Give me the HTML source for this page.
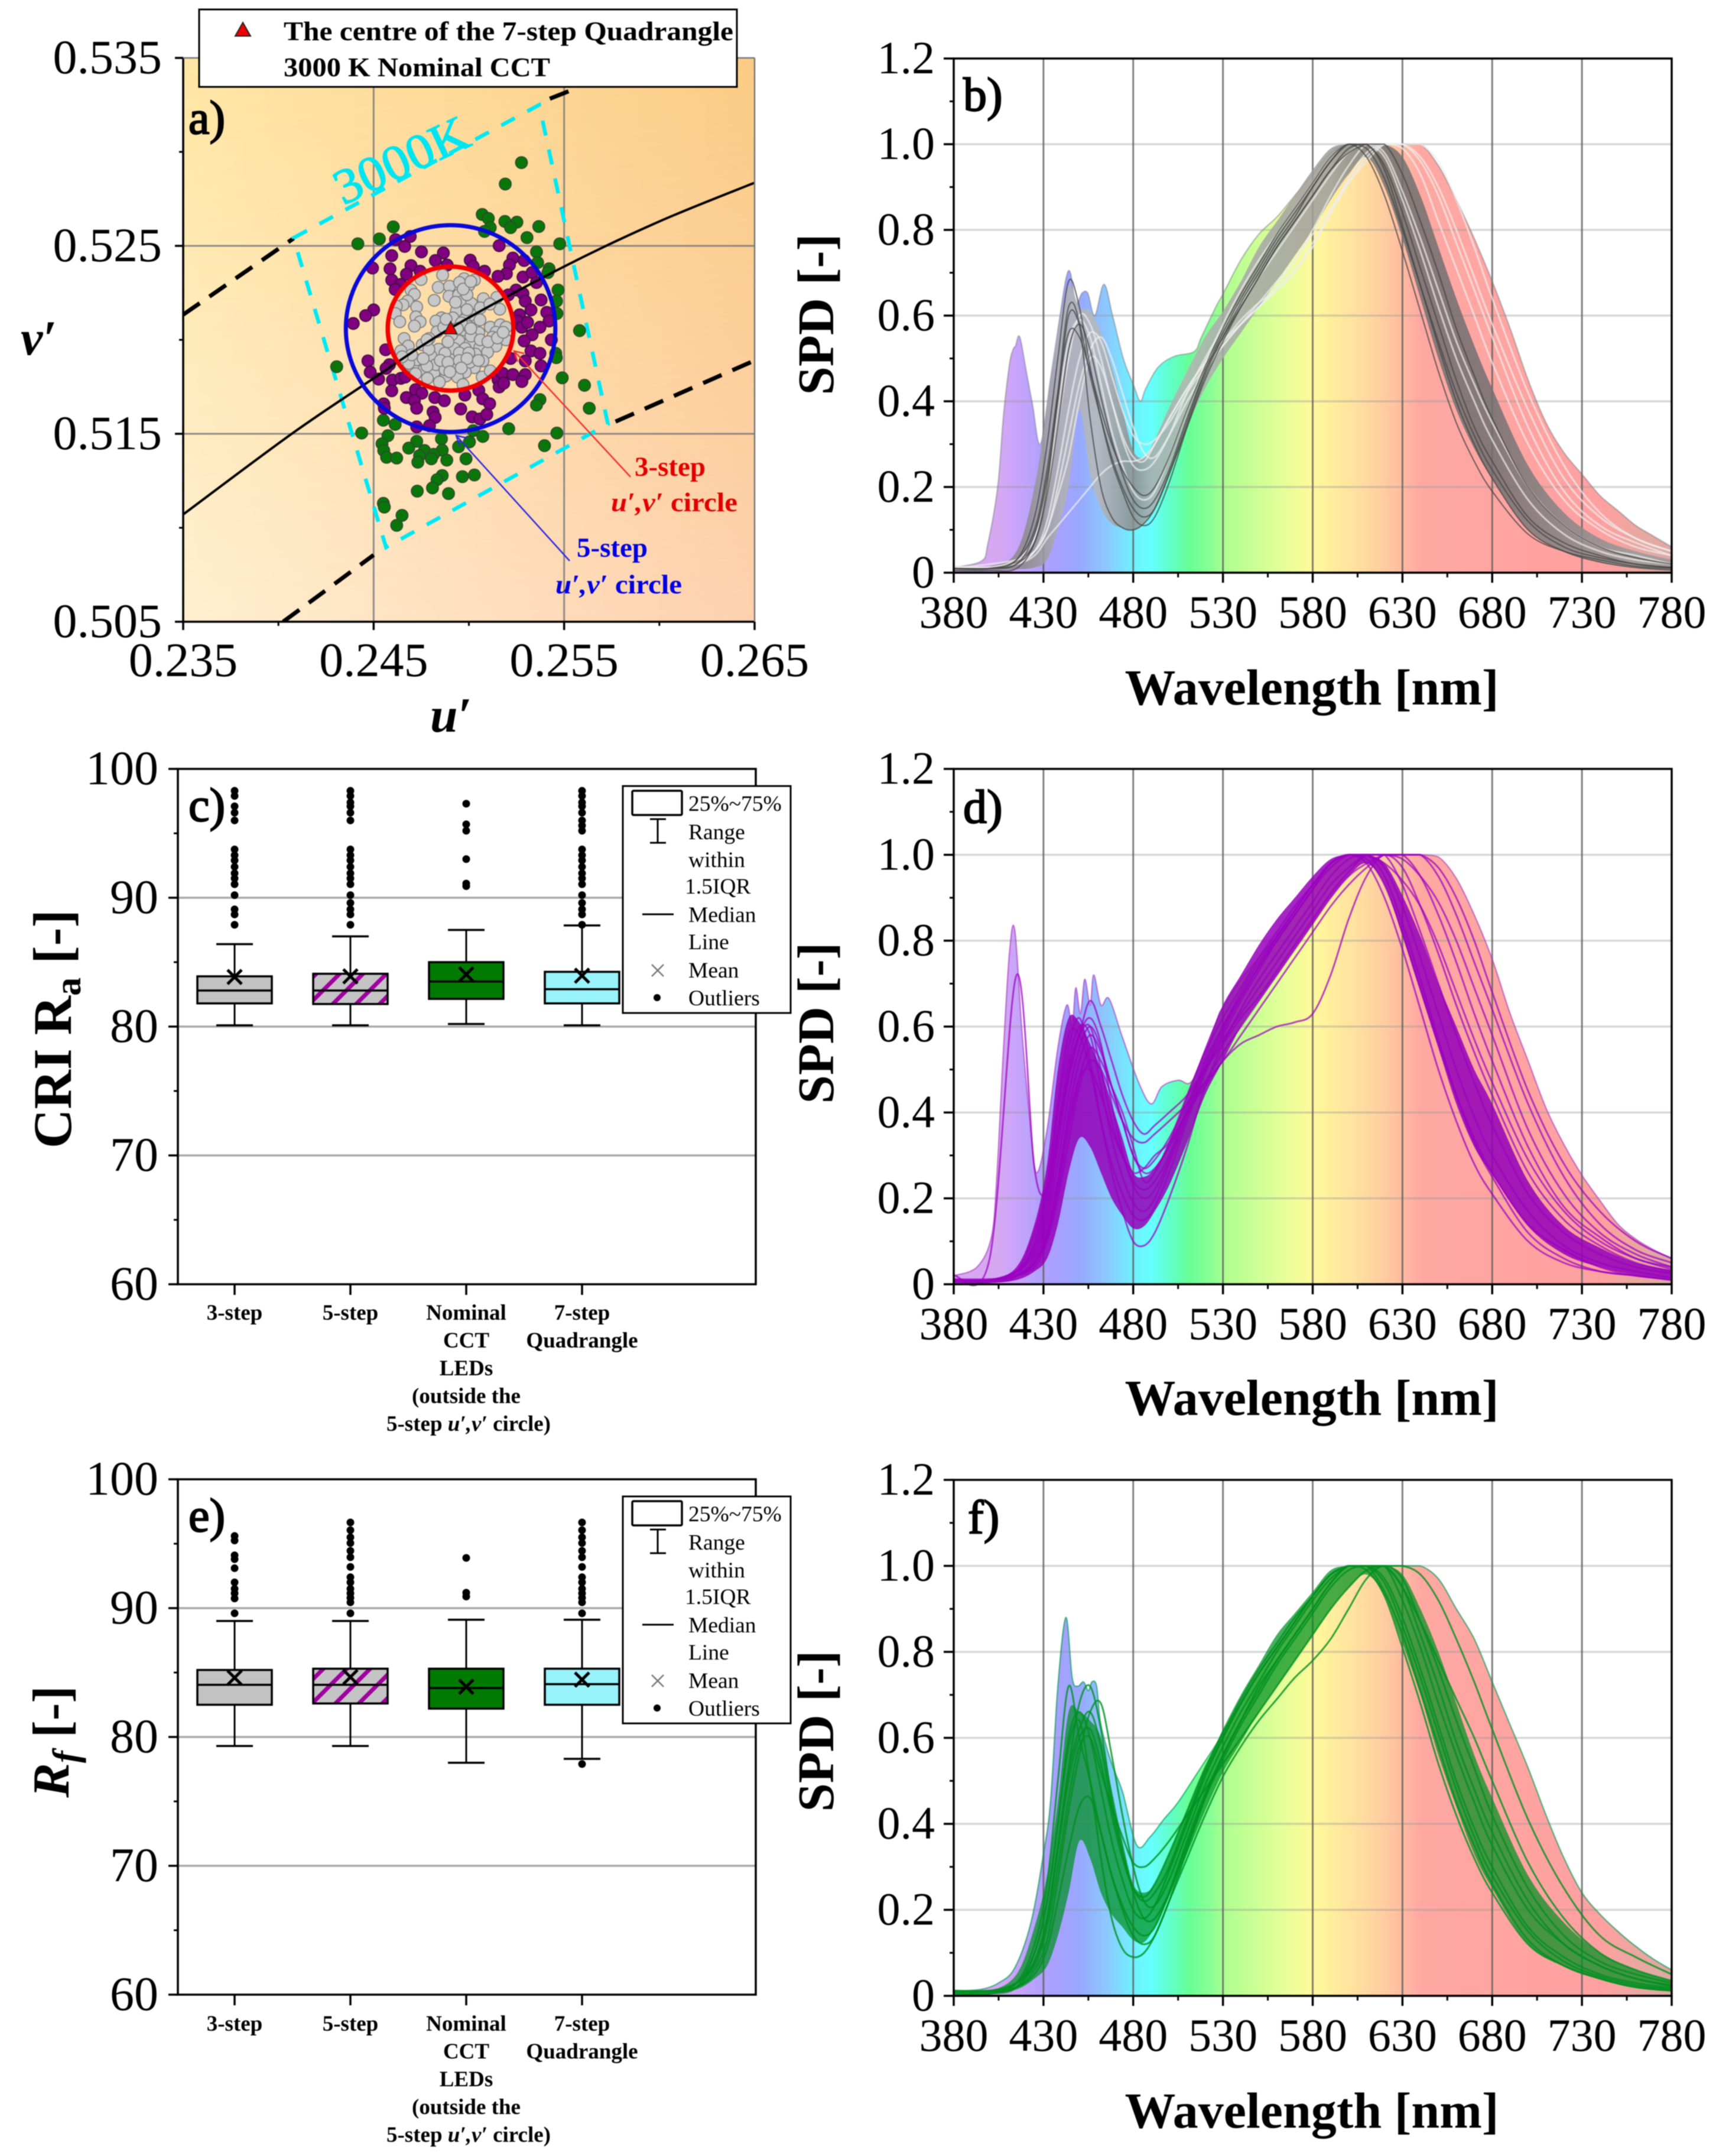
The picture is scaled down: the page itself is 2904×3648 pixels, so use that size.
<!DOCTYPE html>
<html lang="en">
<head>
<meta charset="utf-8">
<title>LED chromaticity, colour rendering and spectra at 3000 K</title>
<style>
html,body{margin:0;padding:0;background:#fff;}
svg{display:block;filter:blur(0.9px);}
text{font-family:"Liberation Serif",serif;fill:#000;}
</style>
</head>
<body>
<svg xmlns="http://www.w3.org/2000/svg" width="2904" height="3648" viewBox="0 0 2904 3648">
<defs>
<linearGradient id="bgTop" x1="0" x2="1" y1="0" y2="0"><stop offset="0" stop-color="#ffe6a4"/><stop offset="1" stop-color="#fbcc84"/></linearGradient>
<linearGradient id="bgBottom" x1="0" x2="1" y1="0" y2="0"><stop offset="0" stop-color="#ffefd0"/><stop offset="1" stop-color="#fdd0ae"/></linearGradient>
<linearGradient id="bgFade" x1="0" x2="0" y1="0" y2="1"><stop offset="0" stop-color="#000"/><stop offset="1" stop-color="#fff"/></linearGradient>
<mask id="bgMask" maskUnits="userSpaceOnUse" x="310" y="98" width="967" height="954"><rect x="310" y="98" width="967" height="954" fill="url(#bgFade)"/></mask>
<clipPath id="clipA"><rect x="310" y="98" width="967" height="954"/></clipPath>
<pattern id="hatch" width="28" height="28" patternUnits="userSpaceOnUse" patternTransform="rotate(45)"><rect width="28" height="28" fill="#c4c4c4"/><rect width="7" height="28" fill="#a000a0"/></pattern>
</defs>
<rect x="0" y="0" width="2904" height="3648" fill="#fff"/>

<g id="panel-a">
<rect x="310" y="98" width="967" height="954" fill="url(#bgTop)"/>
<rect x="310" y="98" width="967" height="954" fill="url(#bgBottom)" mask="url(#bgMask)"/>
</g>
<g id="panel-b"></g>
<g id="panel-c"></g>
<g id="panel-d"></g>
<g id="panel-e"></g>
<g id="panel-f"></g>

<!-- panel a annotations -->
<polyline points="1067,807 870,594" fill="none" stroke="#f03030" stroke-width="2.5"/>
<polyline points="887,598 870,594 876,612" fill="none" stroke="#f03030" stroke-width="2.5"/>
<polyline points="964,949 772,737" fill="none" stroke="#2a2ae0" stroke-width="2.5"/>
<polyline points="790,741 772,737 778,755" fill="none" stroke="#2a2ae0" stroke-width="2.5"/>
<text x="1134" y="805" font-size="47" font-weight="bold" text-anchor="middle" style="fill:#e00000">3-step</text>
<text x="1141" y="865" font-size="45" font-weight="bold" text-anchor="middle" textLength="214" lengthAdjust="spacingAndGlyphs" style="fill:#e00000"><tspan font-style="italic" style="fill:#e00000">u′,v′</tspan> circle</text>
<text x="1036" y="942" font-size="47" font-weight="bold" text-anchor="middle" style="fill:#0000e0">5-step</text>
<text x="1047" y="1004" font-size="45" font-weight="bold" text-anchor="middle" textLength="214" lengthAdjust="spacingAndGlyphs" style="fill:#0000e0"><tspan font-style="italic" style="fill:#0000e0">u′,v′</tspan> circle</text>
<text transform="translate(679,271) rotate(-25)" y="28" font-size="84" text-anchor="middle" textLength="243" lengthAdjust="spacingAndGlyphs" stroke="#00e4f0" stroke-width="1.6" style="fill:#00e4f0">3000K</text>
<text x="319" y="226" font-size="80" stroke="#000" stroke-width="2.2">a)</text>
<text x="35" y="600" font-size="84" font-weight="bold" font-style="italic">v′</text>
<text x="763" y="1238" font-size="84" font-weight="bold" font-style="italic" text-anchor="middle">u′</text>

<g>
<rect x="337" y="16" width="910" height="131" fill="#fff" stroke="#000" stroke-width="3"/>
<polygon points="411,38 398,61 424,61" fill="#ee0000" stroke="#222" stroke-width="2"/>
<text x="480" y="68" font-size="46" font-weight="bold" textLength="761" lengthAdjust="spacingAndGlyphs">The centre of the 7-step Quadrangle</text>
<text x="480" y="129" font-size="46" font-weight="bold" textLength="451" lengthAdjust="spacingAndGlyphs">3000 K Nominal CCT</text>
</g>

<text x="1630" y="187" font-size="80" stroke="#000" stroke-width="2.2">b)</text>
<text x="319" y="1389" font-size="80" stroke="#000" stroke-width="2.2">c)</text>
<text x="1630" y="1392" font-size="80" stroke="#000" stroke-width="2.2">d)</text>
<text x="319" y="2591" font-size="80" stroke="#000" stroke-width="2.2">e)</text>
<text x="1638" y="2594" font-size="80" stroke="#000" stroke-width="2.2">f)</text>

<text x="2220" y="1192" font-size="86" font-weight="bold" text-anchor="middle">Wavelength [nm]</text>
<text x="2220" y="2394" font-size="86" font-weight="bold" text-anchor="middle">Wavelength [nm]</text>
<text x="2220" y="3600" font-size="86" font-weight="bold" text-anchor="middle">Wavelength [nm]</text>
<text transform="translate(1410,532) rotate(-90)" font-size="87" font-weight="bold" text-anchor="middle">SPD [-]</text>
<text transform="translate(1410,1731) rotate(-90)" font-size="87" font-weight="bold" text-anchor="middle">SPD [-]</text>
<text transform="translate(1410,2929) rotate(-90)" font-size="87" font-weight="bold" text-anchor="middle">SPD [-]</text>
<text transform="translate(120,1741) rotate(-90)" font-size="92" font-weight="bold" text-anchor="middle">CRI R<tspan font-size="62" dy="16">a</tspan><tspan dy="-16"> [-]</tspan></text>
<text transform="translate(116,2947) rotate(-90)" font-size="88" font-weight="bold" text-anchor="middle"><tspan font-style="italic">R</tspan><tspan font-style="italic" font-size="62" dy="16">f</tspan><tspan dy="-16"> [-]</tspan></text>

<script>
<![CDATA[
/* ---------- panel a data (u', v') ---------- */
const uTicks = ['0.235','0.245','0.255','0.265'];
const vTicks = ['0.535','0.525','0.515','0.505'];
const greenPoints = [[.25276,.52943],[.25191,.52829],[.25070,.52667],[.25102,.52646],[.25112,.52597],[.25082,.52577],[.25189,.52630],[.25252,.52626],[.25219,.52597],[.25367,.52603],[.25305,.52544],[.24603,.52601],[.24530,.52537],[.24417,.52511],[.25477,.52511],[.25355,.52468],[.25361,.52411],[.25421,.52378],[.25415,.52358],[.25468,.52265],[.25460,.52206],[.25462,.52140],[.25581,.52049],[.25456,.51928],[.25459,.51905],[.25490,.51798],[.25607,.51758],[.25632,.51636],[.25373,.51682],[.25355,.51653],[.24306,.51857],[.25209,.51527],[.25462,.51504],[.25397,.51437],[.25073,.51486],[.25023,.51517],[.25003,.51457],[.24946,.51431],[.24856,.51473],[.24726,.51460],[.24684,.51424],[.24767,.51411],[.24860,.51413],[.24815,.51391],[.24803,.51367],[.24884,.51360],[.24741,.51384],[.24732,.51349],[.24985,.51367],[.24551,.51572],[.24613,.51550],[.24437,.51504],[.24575,.51490],[.24544,.51447],[.24553,.51411],[.24568,.51375],[.24621,.51371],[.24860,.51278],[.24833,.51256],[.24809,.51212],[.24966,.51272],[.25029,.51281],[.24729,.51195],[.24893,.51182],[.24551,.51130],[.24556,.51110],[.24649,.51066],[.24621,.51013]];
const purplePoints = [[.24692,.52550],[.24615,.52533],[.24663,.52497],[.25159,.52501],[.24751,.52468],[.24595,.52448],[.24866,.52462],[.24824,.52422],[.24886,.52398],[.25007,.52424],[.24494,.52382],[.24586,.52378],[.24696,.52395],[.24744,.52365],[.24672,.52349],[.24595,.52318],[.24643,.52295],[.24613,.52268],[.25023,.52391],[.25082,.52365],[.25231,.52435],[.25213,.52398],[.25290,.52422],[.25197,.52352],[.25153,.52338],[.25284,.52334],[.25332,.52358],[.25355,.52305],[.25248,.52265],[.25207,.52239],[.25284,.52246],[.25296,.52206],[.25379,.52212],[.25326,.52159],[.25266,.52133],[.25254,.52100],[.25278,.52067],[.25308,.52093],[.25409,.52146],[.25421,.52100],[.25373,.52067],[.25332,.52027],[.25290,.51994],[.25433,.52000],[.25326,.51941],[.25373,.51928],[.25296,.51888],[.25219,.51901],[.25379,.51861],[.24500,.52159],[.24458,.52129],[.24393,.52087],[.24563,.51947],[.24470,.51888],[.24583,.51868],[.24565,.51848],[.24482,.51828],[.24526,.51791],[.24599,.51786],[.24643,.51795],[.24666,.51802],[.24595,.51729],[.24720,.51735],[.24753,.51716],[.24672,.51693],[.24714,.51676],[.24821,.51693],[.24871,.51676],[.24726,.51636],[.24553,.51659],[.24556,.51636],[.24812,.51616],[.24823,.51587],[.24726,.51537],[.24793,.51543],[.24979,.51706],[.25052,.51731],[.25073,.51686],[.25109,.51660],[.24957,.51632],[.25017,.51590],[.25058,.51579],[.25094,.51603],[.25153,.51788],[.25177,.51822],[.25231,.51815],[.25159,.51749],[.25183,.51769],[.25296,.51815],[.25278,.51778]];
const grayPoints = [[.24862,.52345],[.24749,.52321],[.24839,.52279],[.24898,.52285],[.24696,.52265],[.24714,.52242],[.24678,.52206],[.24654,.52186],[.24619,.52179],[.24613,.52140],[.24637,.52096],[.24726,.52175],[.24722,.52122],[.24744,.52096],[.24714,.52073],[.24818,.52210],[.24896,.52232],[.24946,.52239],[.24969,.52206],[.24975,.52325],[.24999,.52289],[.25029,.52318],[.24951,.52305],[.25014,.52193],[.25076,.52219],[.25147,.52226],[.25162,.52163],[.24934,.52153],[.25011,.52133],[.24975,.52106],[.24916,.52117],[.24856,.52117],[.24827,.52100],[.25058,.52106],[.25112,.52067],[.25165,.52080],[.25142,.52040],[.25195,.52067],[.25052,.52038],[.24975,.52053],[.24833,.52043],[.24791,.52007],[.24660,.52007],[.24682,.51967],[.24643,.51941],[.24755,.51974],[.24841,.51950],[.24801,.51914],[.24904,.51994],[.24948,.51994],[.25005,.51981],[.25058,.51961],[.25142,.51967],[.25195,.52000],[.25098,.51934],[.25035,.51924],[.24969,.51918],[.24904,.51908],[.25074,.51888],[.25029,.51852],[.24981,.51828],[.24940,.51802],[.24880,.51808],[.24817,.51826],[.24755,.51835],[.24706,.51857],[.24726,.51894],[.24684,.51875],[.24782,.51795],[.24845,.51775],[.24969,.51762],[.25070,.51802],[.25112,.51835],[.24856,.51868],[.24827,.51868],[.24934,.51868],[.24874,.51841],[.25011,.52020],[.24922,.51954],[.24874,.51928],[.24868,.52067],[.24910,.52027],[.25124,.52014],[.24981,.51954],[.25005,.51881],[.24890,.51990],[.24950,.51930],[.25000,.51930],[.24850,.51890],[.24890,.51880],[.24950,.51890],[.24990,.51900],[.25050,.51890],[.24900,.51830],[.24960,.51850],[.24780,.51860],[.24790,.51950],[.24760,.51900],[.25000,.52070],[.25060,.52000],[.25100,.51990],[.25150,.52010],[.25180,.52040],[.24960,.52090],[.25010,.52060],[.24880,.52110],[.24940,.52060],[.24990,.52160],[.24930,.52200],[.24990,.52240],[.24970,.52270],[.25010,.52310],[.25060,.52170],[.25110,.52190],[.24780,.52000],[.24700,.51920],[.24650,.51910],[.24720,.51820]];
const locusU = [.235,.2407,.245,.249,.255,.26,.265];
const locusV = [.51071,.515,.51795,.5206,.5239,.5263,.52836];
const isoUpperLeftU = [.235,.2408];
const isoUpperLeftV = [.52134,.5254];
const isoUpperRightU = [.25425,.25577];
const isoUpperRightV = [.53283,.53344];
const isoLowerLeftU = [.24025,.245];
const isoLowerLeftV = [.505,.50855];
const isoLowerRightU = [.2577,.265];
const isoLowerRightV = [.51565,.5189];
const quadU = [.24079,.25369,.25730,.24565];
const quadV = [.52542,.53250,.51552,.50896];
const circleCentre = [.24904,.5206];
const radiusThreeStep = .0033;
const radiusFiveStep = .0055;

/* ---------- box plot data ---------- */
const boxCategories = [['3-step'],['5-step'],['Nominal','CCT','LEDs','(outside the','5-step |u′,v′| circle)'],['7-step','Quadrangle']];
const boxTicks = [100,90,80,70,60];
const criQ1 = [81.8,81.75,82.15,81.8];
const criMedian = [82.8,82.8,83.5,82.9];
const criQ3 = [83.9,84.1,85,84.25];
const criLow = [80.1,80.1,80.2,80.1];
const criHigh = [86.4,87,87.5,87.85];
const criMean = [83.85,83.9,84.05,83.95];
const criOutliers = [
 [98.3,97.9,97.1,96.6,96,93.75,93.3,92.9,92.4,91.9,91.5,91.05,90.2,89.1,88.7,87.9],
 [98.3,97.9,97.4,97.1,96.6,96,93.75,93.3,92.9,92.4,91.9,91.5,91.05,90.2,89.6,89.1,88.7,87.9],
 [97.3,95.7,95.2,93,91.1,90.9],
 [98.3,97.9,97.4,97.1,96.6,96,95.6,95.2,93.75,93.3,92.9,92.4,91.9,91.5,91.05,90.2,89.6,89.1,88.7,87.9]];
const rfQ1 = [82.5,82.6,82.2,82.5];
const rfMedian = [84.05,84.05,83.8,84.1];
const rfQ3 = [85.2,85.3,85.3,85.3];
const rfLow = [79.3,79.3,78,78.3];
const rfHigh = [89,89,89.1,89.1];
const rfMean = [84.6,84.65,83.9,84.45];
const rfOutliers = [
 [95.6,95.25,94.1,93.8,93.1,92,91.5,91.15,90.75,89.6],
 [96.65,96.05,95.5,95.05,94.45,93.95,93.2,92.4,92,91.5,91.15,90.8,90.45,89.6],
 [93.9,91.2,90.9],
 [96.65,96.05,95.5,95.05,94.45,93.95,93.2,92.4,92,91.5,91.15,90.8,90.45,89.6,77.9]];

/* ---------- spectra data ---------- */
const wlTicks = [380,430,480,530,580,630,680,730,780];
const spdTicks = [0,0.2,0.4,0.6,0.8,1.0,1.2];
const wlUpper = [540,550,560,570,580,590,600,610,620,630,640,650,660,670,680,690,700,710,720,730,740,750,760,770,780];
const wlEnvelopeB = [380,395.4,399,404.5,407.7,411,413,414.5,416.8,420.7,424,428.3,434,438.8,442.6,445,448,451.4,454.7,458.6,463.7,468.5,474.5,480.5,484,487,494,503,514,518,526,530,...wlUpper];
const wlEnvelopeD = [380,393,401,404,407.5,411,414,418,422,426,432,438,443,446,448,450.6,453,456,458,462,466.5,474,483,490,496,505,512,520,527,530,...wlUpper];
const wlEnvelopeF = [380,395,405,414,423,430,434,438,442.5,446,449,452.3,455,457,459.6,462,468,474,482,489.5,497,505,516,527,530,...wlUpper];
const wlLine = [380,400,415,425,432,438,444,450,456,462,468,474,480,486,492,500,510,520,530,540,550,560,570,580,590,600,610,620,630,640,650,660,670,680,700,720,740,760,780];

const envelopeB = [.012,.027,.067,.20,.365,.485,.52,.53,.55,.464,.39,.30,.454,.588,.687,.70,.628,.652,.652,.60,.673,.60,.50,.434,.40,.43,.48,.505,.516,.55,.62,.65,.73,.79,.83,.88,.93,.98,1,1,1,1,1,.95,.87,.78,.68,.57,.45,.35,.28,.23,.18,.145,.11,.085,.06];
const envelopeD = [.02,.04,.11,.25,.53,.77,.825,.59,.40,.26,.36,.55,.65,.60,.69,.63,.71,.65,.72,.65,.665,.575,.47,.42,.46,.475,.47,.53,.62,.645,.71,.76,.81,.86,.92,.98,1,1,1,1,1,.995,.945,.86,.757,.63,.52,.41,.325,.254,.195,.14,.105,.08,.06];
const envelopeF = [.01,.015,.03,.065,.17,.33,.455,.72,.88,.74,.72,.73,.71,.73,.72,.63,.54,.475,.35,.37,.41,.45,.52,.59,.615,.68,.75,.81,.87,.93,.98,1,1,1,1,1,.97,.90,.83,.73,.63,.53,.42,.32,.24,.19,.15,.115,.085,.06];

const bandLowB = [.005,.005,.008,.012,.03,.10,.20,.38,.23,.15,.115,.105,.10,.115,.15,.23,.34,.43,.50,.56,.62,.68,.74,.80,.87,.93,.97,.90,.78,.64,.50,.38,.29,.22,.10,.05,.025,.012,.005];
const bandHighB = [.015,.015,.05,.20,.39,.56,.67,.62,.61,.56,.48,.38,.285,.27,.31,.385,.47,.55,.61,.68,.76,.82,.88,.94,.99,1,1,1,.97,.88,.76,.64,.53,.43,.25,.14,.08,.05,.03];
const bandLowD = [.003,.003,.01,.03,.06,.14,.26,.34,.32,.26,.20,.16,.13,.135,.17,.23,.33,.44,.52,.60,.66,.72,.78,.84,.90,.95,.98,.93,.81,.68,.55,.42,.32,.255,.135,.07,.04,.022,.013];
const bandHighD = [.012,.012,.04,.14,.28,.50,.62,.61,.56,.50,.42,.34,.26,.25,.27,.33,.44,.55,.65,.72,.79,.85,.90,.95,.99,1,1,.98,.905,.81,.70,.60,.50,.42,.24,.135,.085,.05,.033];
const bandLowF = [.005,.005,.015,.04,.07,.14,.24,.36,.32,.24,.19,.16,.13,.125,.16,.23,.33,.43,.52,.59,.66,.72,.78,.84,.90,.95,.98,.93,.82,.70,.56,.44,.33,.25,.12,.07,.04,.02,.012];
const bandHighF = [.012,.012,.05,.16,.28,.45,.66,.66,.64,.60,.48,.36,.26,.24,.26,.33,.43,.53,.62,.70,.77,.84,.89,.94,.99,1,1,1,.98,.90,.80,.68,.56,.46,.28,.17,.10,.06,.035];

const darkLinesB = [
 [.01,.01,.03,.13,.30,.50,.68,.62,.48,.36,.26,.19,.13,.11,.13,.21,.34,.46,.55,.63,.70,.77,.83,.90,.96,1,.97,.88,.75,.61,.47,.35,.26,.19,.09,.05,.03,.015,.01],
 [.01,.01,.02,.09,.22,.40,.60,.58,.46,.36,.27,.20,.15,.13,.15,.23,.35,.47,.56,.64,.71,.78,.84,.90,.96,1,1,.95,.84,.71,.58,.45,.34,.26,.13,.07,.04,.02,.012],
 [.01,.01,.02,.07,.18,.34,.52,.58,.52,.41,.31,.23,.17,.15,.17,.24,.36,.47,.55,.62,.69,.76,.82,.88,.94,.98,1,1,.93,.82,.70,.57,.46,.36,.20,.11,.06,.035,.02],
 [.01,.01,.03,.10,.24,.42,.56,.55,.47,.38,.30,.24,.20,.18,.20,.27,.38,.48,.57,.65,.72,.79,.85,.91,.97,1,.99,.92,.80,.67,.54,.42,.32,.24,.12,.06,.035,.02,.012],
 [.005,.005,.01,.07,.20,.42,.62,.58,.36,.20,.13,.105,.10,.115,.15,.23,.34,.45,.54,.62,.69,.76,.82,.88,.94,.99,1,.94,.81,.67,.53,.40,.30,.22,.10,.05,.025,.012,.006]];
const lightLinesB = [
 [.012,.012,.03,.08,.18,.34,.50,.60,.58,.50,.40,.31,.25,.24,.26,.32,.42,.50,.57,.63,.69,.75,.81,.87,.93,.98,1,.98,.89,.78,.66,.54,.44,.35,.20,.11,.06,.04,.02],
 [.015,.012,.02,.05,.12,.24,.38,.50,.56,.54,.46,.38,.32,.30,.31,.35,.42,.48,.53,.58,.62,.67,.73,.80,.88,.95,1,1,1,.97,.90,.80,.69,.58,.38,.22,.13,.08,.05],
 [.01,.02,.03,.05,.10,.18,.27,.40,.50,.48,.40,.32,.27,.26,.30,.36,.43,.49,.54,.59,.63,.66,.70,.76,.84,.92,.98,1,.99,.93,.82,.71,.60,.49,.30,.17,.10,.06,.04],
 [.012,.012,.03,.08,.20,.38,.54,.59,.55,.44,.33,.25,.19,.17,.19,.27,.38,.49,.58,.66,.73,.79,.85,.91,.97,1,1,.97,.87,.75,.62,.50,.40,.31,.17,.09,.05,.03,.02],
 [.01,.012,.02,.04,.08,.11,.14,.17,.20,.23,.25,.26,.26,.27,.30,.36,.43,.49,.54,.58,.62,.66,.71,.77,.84,.91,.97,1,1,.96,.88,.77,.66,.55,.34,.19,.11,.07,.04],
 [.012,.012,.02,.05,.10,.20,.32,.44,.52,.55,.50,.42,.34,.28,.27,.32,.40,.47,.53,.58,.63,.68,.73,.79,.85,.91,.96,1,1,1,.96,.87,.76,.64,.42,.25,.14,.08,.05]];
const linesD = [
 [.01,.01,.03,.12,.24,.42,.58,.58,.50,.38,.28,.21,.16,.15,.18,.26,.38,.49,.58,.66,.73,.80,.86,.92,.98,1,.98,.90,.78,.64,.50,.38,.28,.21,.10,.05,.03,.02,.01],
 [.01,.01,.02,.06,.14,.28,.44,.55,.60,.55,.46,.38,.30,.26,.27,.32,.40,.47,.54,.60,.66,.72,.78,.84,.90,.95,.98,1,1,.95,.86,.75,.63,.52,.32,.18,.11,.06,.04],
 [.01,.01,.02,.04,.10,.20,.33,.46,.52,.50,.44,.38,.34,.33,.35,.38,.42,.47,.52,.58,.64,.70,.76,.82,.88,.93,.97,1,1,1,.95,.86,.75,.64,.42,.25,.14,.08,.05],
 [.01,.01,.02,.05,.12,.24,.38,.48,.50,.44,.36,.30,.26,.27,.30,.33,.40,.46,.52,.56,.58,.60,.61,.63,.72,.85,.95,1,.97,.88,.77,.65,.54,.44,.26,.15,.09,.05,.03],
 [.005,.005,.02,.10,.22,.40,.55,.62,.52,.38,.26,.17,.10,.09,.12,.20,.32,.46,.56,.64,.71,.77,.83,.89,.95,.99,1,.95,.84,.71,.57,.44,.33,.25,.12,.06,.03,.02,.01],
 [.01,.01,.03,.09,.20,.36,.52,.60,.58,.46,.34,.25,.19,.17,.20,.28,.39,.50,.59,.67,.74,.81,.87,.93,.98,1,.99,.93,.82,.69,.56,.44,.34,.26,.14,.08,.04,.02,.012],
 [.01,.01,.03,.07,.16,.32,.48,.58,.62,.56,.42,.31,.23,.20,.22,.29,.40,.51,.60,.68,.75,.81,.87,.93,.98,1,1,.97,.88,.76,.63,.50,.39,.30,.17,.09,.05,.03,.015],
 [.012,.012,.02,.05,.11,.22,.36,.48,.55,.52,.46,.40,.32,.24,.26,.33,.44,.54,.62,.69,.76,.82,.88,.93,.98,1,1,1,.93,.82,.70,.58,.47,.37,.21,.12,.07,.04,.025],
 [.02,.06,.72,.27,.22,.36,.48,.58,.66,.60,.52,.44,.38,.35,.37,.40,.44,.50,.56,.62,.67,.73,.79,.85,.91,.96,1,1,1,1,.97,.90,.80,.68,.45,.28,.17,.10,.06],
 [.01,.01,.02,.05,.12,.24,.40,.52,.58,.54,.46,.38,.30,.27,.29,.34,.42,.50,.57,.63,.69,.75,.81,.87,.93,.97,1,1,.99,.95,.89,.80,.69,.58,.36,.21,.12,.07,.04],
 [.01,.01,.03,.08,.18,.34,.50,.58,.60,.50,.38,.30,.24,.22,.24,.30,.41,.52,.60,.67,.74,.80,.86,.92,.97,1,1,.98,.94,.88,.79,.68,.57,.47,.29,.17,.10,.06,.035]];
const linesF = [
 [.005,.005,.03,.12,.26,.50,.72,.60,.50,.38,.28,.21,.16,.14,.16,.24,.36,.47,.56,.64,.71,.78,.84,.90,.96,1,.99,.93,.81,.68,.54,.42,.32,.24,.12,.07,.04,.02,.012],
 [.01,.01,.03,.08,.18,.35,.53,.68,.72,.62,.46,.34,.24,.18,.18,.24,.35,.46,.55,.63,.70,.77,.83,.89,.95,.99,1,.97,.88,.76,.63,.50,.39,.30,.16,.09,.05,.03,.018],
 [.012,.012,.02,.06,.13,.27,.43,.56,.66,.68,.56,.42,.30,.22,.21,.27,.38,.49,.58,.66,.73,.80,.86,.92,.97,1,1,1,.92,.81,.68,.56,.45,.35,.20,.12,.07,.04,.025],
 [.012,.012,.03,.07,.16,.30,.46,.58,.60,.52,.44,.37,.31,.30,.32,.36,.42,.48,.54,.60,.66,.72,.78,.84,.90,.95,.99,1,1,.98,.92,.83,.73,.62,.41,.25,.14,.09,.05],
 [.01,.01,.02,.05,.11,.22,.34,.44,.46,.38,.28,.20,.14,.12,.14,.22,.32,.42,.51,.58,.64,.69,.74,.78,.83,.90,.97,1,.97,.87,.76,.64,.53,.42,.25,.14,.08,.05,.03],
 [.005,.005,.02,.10,.22,.40,.58,.64,.50,.32,.18,.11,.09,.10,.14,.22,.34,.46,.56,.64,.72,.78,.84,.90,.96,1,1,.94,.84,.71,.58,.45,.35,.26,.13,.07,.04,.02,.012],
 [.01,.01,.03,.10,.22,.40,.60,.66,.60,.48,.36,.27,.20,.18,.21,.29,.40,.51,.60,.68,.75,.81,.87,.93,.98,1,1,.96,.86,.74,.61,.48,.37,.28,.15,.08,.045,.025,.015],
 [.01,.01,.02,.08,.18,.34,.50,.60,.62,.54,.42,.32,.25,.23,.26,.33,.43,.53,.61,.69,.76,.82,.88,.93,.98,1,1,1,.95,.84,.72,.59,.48,.38,.22,.12,.07,.04,.022],
 [.01,.01,.03,.08,.18,.34,.52,.62,.66,.58,.44,.33,.25,.22,.24,.30,.41,.52,.60,.68,.75,.81,.87,.93,.98,1,1,1,.95,.87,.78,.69,.60,.50,.31,.18,.10,.06,.035]];

/* ---------- helpers ---------- */
const NS = 'http://www.w3.org/2000/svg';
function mk(parent, tag, attrs) {
  const e = document.createElementNS(NS, tag);
  for (const k in attrs) e.setAttribute(k, attrs[k]);
  parent.appendChild(e);
  return e;
}
function scale(d0, d1, r0, r1) { return v => r0 + (v - d0) / (d1 - d0) * (r1 - r0); }
function drawLine(parent, x1, y1, x2, y2, stroke, width, name) {
  const l = mk(parent, 'line', {x1, y1, x2, y2, stroke, 'stroke-width': width});
  
  
  return l;
}
function drawText(parent, str, x, y, size, anchor, weight, name) {
  const t = mk(parent, 'text', {x, y, 'font-size': size, 'text-anchor': anchor, 'font-weight': weight});
  
  
  str.split('|').forEach((part, i) => {
    const s = mk(t, 'tspan', i % 2 ? {'font-style': 'italic'} : {});
    s.textContent = part;
  });
  return t;
}
function smooth(xs, ys, minY) {
  const pts = xs.map((x, i) => [x, ys[i]]);
  let d = 'M' + pts[0][0].toFixed(1) + ' ' + pts[0][1].toFixed(1);
  const cl = v => Math.max(v, minY);
  for (let i = 0; i < pts.length - 1; i++) {
    const p0 = pts[Math.max(i - 1, 0)], p1 = pts[i], p2 = pts[i + 1], p3 = pts[Math.min(i + 2, pts.length - 1)];
    const c1x = p1[0] + (p2[0] - p0[0]) / 6, c1y = cl(p1[1] + (p2[1] - p0[1]) / 6);
    const c2x = p2[0] - (p3[0] - p1[0]) / 6, c2y = cl(p2[1] - (p3[1] - p1[1]) / 6);
    d += 'C' + c1x.toFixed(1) + ' ' + c1y.toFixed(1) + ' ' + c2x.toFixed(1) + ' ' + c2y.toFixed(1) + ' ' + p2[0].toFixed(1) + ' ' + p2[1].toFixed(1);
  }
  return d;
}

/* ---------- panel a ---------- */
(function () {
  const g = document.getElementById('panel-a');
  const X = scale(.235, .265, 310, 1277);
  const Y = scale(.505, .535, 1052, 98);
  [.245, .255].forEach(u => drawLine(g, X(u), 98, X(u), 1052, 'rgba(110,110,120,.75)', 3, 'u-grid-line'));
  [.525, .515].forEach(v => drawLine(g, 310, Y(v), 1277, Y(v), 'rgba(110,110,120,.75)', 3, 'v-grid-line'));

  const clip = mk(g, 'g', {'clip-path': 'url(#clipA)'});
  
  

  [[isoUpperLeftU, isoUpperLeftV], [isoUpperRightU, isoUpperRightV], [isoLowerLeftU, isoLowerLeftV], [isoLowerRightU, isoLowerRightV]].forEach(pair => {
    const iso = mk(clip, 'line', {x1: X(pair[0][0]), y1: Y(pair[1][0]), x2: X(pair[0][1]), y2: Y(pair[1][1]), stroke: '#000', 'stroke-width': 7, 'stroke-dasharray': '34 20'});
    
    
  });

  const quad = mk(clip, 'polygon', {points: quadU.map((u, i) => X(u) + ',' + Y(quadV[i])).join(' '), fill: 'none', stroke: '#00e8f4', 'stroke-width': 6.5, 'stroke-dasharray': '26 24'});
  
  

  [[greenPoints, '#0a760a', 'nominal-led-point', '#2c4a2c'], [purplePoints, '#800080', 'five-step-led-point', '#401040'], [grayPoints, '#c8c8c8', 'three-step-led-point', '#808080']].forEach(set => {
    set[0].forEach(p => {
      const c = mk(clip, 'circle', {cx: X(p[0]), cy: Y(p[1]), r: 10, fill: set[1], stroke: set[3], 'stroke-width': 1.8});
      
      
    });
  });

  const locus = mk(clip, 'path', {d: smooth(locusU.map(X), locusV.map(Y), 0), fill: 'none', stroke: '#000', 'stroke-width': 4});
  
  

  const blue = mk(clip, 'ellipse', {cx: X(circleCentre[0]), cy: Y(circleCentre[1]), rx: X(radiusFiveStep) - X(0), ry: Y(0) - Y(radiusFiveStep), fill: 'none', stroke: '#0a0ad8', 'stroke-width': 7});
  
  
  const red = mk(clip, 'ellipse', {cx: X(circleCentre[0]), cy: Y(circleCentre[1]), rx: X(radiusThreeStep) - X(0), ry: Y(0) - Y(radiusThreeStep), fill: 'none', stroke: '#f00000', 'stroke-width': 7.5});
  
  
  const cx = X(circleCentre[0]), cy = Y(circleCentre[1]);
  const tri = mk(clip, 'polygon', {points: cx + ',' + (cy - 12) + ' ' + (cx - 11) + ',' + (cy + 9) + ' ' + (cx + 11) + ',' + (cy + 9), fill: '#ee0000', stroke: '#222', 'stroke-width': 1.5});
  
  

  drawLine(g, 310, 98, 310, 1052, '#000', 3.5, 'y-axis-line');
  drawLine(g, 310, 1052, 1277, 1052, '#000', 3.5, 'x-axis-line');
  drawLine(g, 1277, 98, 1277, 1052, '#777', 2.5, 'right-frame-line');
  drawLine(g, 310, 98, 1277, 98, '#777', 2.5, 'top-frame-line');
  uTicks.forEach(s => {
    const u = parseFloat(s);
    drawLine(g, X(u), 1052, X(u), 1066, '#000', 3.5, 'x-tick');
    drawText(g, s, X(u), 1144, 82, 'middle', 'normal', 'x-tick-label');
  });
  [.24, .25, .26].forEach(u => drawLine(g, X(u), 1052, X(u), 1059, '#000', 3, 'x-minor-tick'));
  vTicks.forEach(s => {
    const v = parseFloat(s);
    drawLine(g, 296, Y(v), 310, Y(v), '#000', 3.5, 'y-tick');
    drawText(g, s, 274, Y(v) + 26, 82, 'end', 'normal', 'y-tick-label');
  });
  [.51, .52, .53].forEach(v => drawLine(g, 303, Y(v), 310, Y(v), '#000', 3, 'y-minor-tick'));
})();

/* ---------- spectra panels ---------- */
const gradWl = [380,405,415,430,437,450,465,480,490,500,511,525,532,560,580,606,623,640,740,760,780];
const gradColors = ['#d8a8f0','#d6a8f2','#c8a4fa','#b0a0ff','#a8a0ff','#98a8ff','#8cc8ff','#6ff0ff','#66ffff','#60ffcc','#66ff96','#90ff94','#b0ff90','#e0ff98','#fff99a','#ffdea0','#ffc8a0','#ffa8a2','#ffa0a0','#eba6a0','#dcaaa4'];
function drawSpectrum(cfg) {
  const g = document.getElementById(cfg.id);
  const L = 1614, R = 2829;
  const X = scale(380, 780, L, R);
  const Y = scale(0, 1.2, cfg.bottom, cfg.top);
  const one = Y(1);
  const grad = mk(g, 'linearGradient', {id: cfg.id + '-rainbow', gradientUnits: 'userSpaceOnUse', x1: L, x2: R, y1: 0, y2: 0});
  gradWl.forEach((w, i) => mk(grad, 'stop', {offset: (w - 380) / 400, 'stop-color': gradColors[i]}));

  const eX = cfg.wlEnv.map(X), eY = cfg.envelope.map(Y);
  const top = smooth(eX, eY, one);
  const fill = mk(g, 'path', {d: top + 'L' + R + ' ' + cfg.bottom + 'L' + L + ' ' + cfg.bottom + 'Z', fill: 'url(#' + cfg.id + '-rainbow)'});
  
  

  spdTicks.slice(1, 6).forEach(v => drawLine(g, L, Y(v), R, Y(v), 'rgba(150,150,150,.38)', 3.5, 'spd-grid-line'));
  wlTicks.slice(1, 8).forEach(w => drawLine(g, X(w), cfg.top, X(w), cfg.bottom, 'rgba(95,95,95,.8)', 3, 'wavelength-grid-line'));

  const edge = mk(g, 'path', {d: top, fill: 'none', stroke: cfg.edge, 'stroke-width': 2.5});
  
  

  const lX = wlLine.map(X);
  const hi = smooth(lX, cfg.bandHigh.map(Y), one);
  const loRevX = lX.slice().reverse();
  const loRevY = cfg.bandLow.map(Y).reverse();
  const lo = smooth(loRevX, loRevY, one).replace(/^M/, 'L');
  let bandFill = cfg.bandColor;
  if (cfg.bandStops) {
    const bg = mk(g, 'linearGradient', {id: cfg.id + '-band', gradientUnits: 'userSpaceOnUse', x1: L, x2: R, y1: 0, y2: 0});
    cfg.bandStops.forEach(s => mk(bg, 'stop', {offset: (s[0] - 380) / 400, 'stop-color': s[1]}));
    bandFill = 'url(#' + cfg.id + '-band)';
  }
  const band = mk(g, 'path', {d: hi + lo + 'Z', fill: bandFill, 'fill-opacity': cfg.bandOpacity});
  
  

  cfg.lineSets.forEach(set => {
    set.values.forEach(vals => {
      const p = mk(g, 'path', {d: smooth(lX, vals.map(Y), one), fill: 'none', stroke: set.color, 'stroke-width': set.width, 'stroke-opacity': set.opacity});
      
      
    });
  });

  const frame = mk(g, 'rect', {x: L, y: cfg.top, width: R - L, height: cfg.bottom - cfg.top, fill: 'none', stroke: '#000', 'stroke-width': 3.5});
  
  
  wlTicks.forEach(w => {
    drawLine(g, X(w), cfg.bottom, X(w), cfg.bottom + 17, '#000', 3.5, 'x-tick');
    drawText(g, String(w), X(w), cfg.bottom + 93, 78, 'middle', 'normal', 'x-tick-label');
  });
  wlTicks.slice(0, 8).forEach(w => drawLine(g, X(w + 25), cfg.bottom, X(w + 25), cfg.bottom + 8, '#000', 3, 'x-minor-tick'));
  spdTicks.forEach(v => {
    drawLine(g, L - 17, Y(v), L, Y(v), '#000', 3.5, 'y-tick');
    drawText(g, v === 0 ? '0' : v.toFixed(1), 1582, Y(v) + 25, 78, 'end', 'normal', 'y-tick-label');
  });
  spdTicks.slice(0, 6).forEach(v => drawLine(g, L - 7, Y(v + .1), L, Y(v + .1), '#000', 3, 'y-minor-tick'));
}
drawSpectrum({id: 'panel-b', top: 99, bottom: 969, wlEnv: wlEnvelopeB, envelope: envelopeB, edge: 'rgba(120,120,130,.45)',
  bandLow: bandLowB, bandHigh: bandHighB, bandOpacity: .85, bandColor: '#808080',
  bandStops: [[420,'#8a8a8a'],[440,'#b0b0b0'],[460,'#b8b8b8'],[480,'#8c8c8c'],[490,'#aaa'],[510,'#b4b4b4'],[530,'#aaa'],[590,'#9c9c9c'],[620,'#707070'],[680,'#707070'],[760,'#999']],
  lineSets: [{values: lightLinesB, color: '#eeeeee', width: 3, opacity: .7}, {values: darkLinesB, color: '#454545', width: 2.2, opacity: .75}]});
drawSpectrum({id: 'panel-d', top: 1301, bottom: 2173, wlEnv: wlEnvelopeD, envelope: envelopeD, edge: 'rgba(170,60,190,.6)',
  bandLow: bandLowD, bandHigh: bandHighD, bandOpacity: .85, bandColor: '#9400b8',
  lineSets: [{values: linesD, color: '#9a00c0', width: 3, opacity: .7}]});
drawSpectrum({id: 'panel-f', top: 2504, bottom: 3377, wlEnv: wlEnvelopeF, envelope: envelopeF, edge: 'rgba(0,150,80,.6)',
  bandLow: bandLowF, bandHigh: bandHighF, bandOpacity: .72, bandColor: '#009020',
  lineSets: [{values: linesF, color: '#009020', width: 3, opacity: .8}]});

/* ---------- box plot panels ---------- */
const boxFills = ['#c2c2c2', 'url(#hatch)', '#007a00', '#99f3fb'];
const legendRows = [['25%~75%', 1165, 42], ['Range', 1165, 90], ['within', 1165, 137], ['1.5IQR', 1159, 182], ['Median', 1165, 230], ['Line', 1165, 276], ['Mean', 1165, 324], ['Outliers', 1165, 371]];
function drawBoxes(cfg) {
  const g = document.getElementById(cfg.id);
  const L = 301, R = 1279;
  const X = scale(0, 3, 397, 985);
  const Y = scale(60, 100, cfg.bottom, cfg.top);
  [90, 80, 70].forEach(v => drawLine(g, L, Y(v), R, Y(v), '#a8a8a8', 3.5, 'y-grid-line'));
  boxCategories.forEach((cat, i) => {
    const x = X(i);
    drawLine(g, x, Y(cfg.low[i]), x, Y(cfg.q1[i]), '#000', 3, 'whisker-lower');
    drawLine(g, x, Y(cfg.q3[i]), x, Y(cfg.high[i]), '#000', 3, 'whisker-upper');
    drawLine(g, x - 31, Y(cfg.low[i]), x + 31, Y(cfg.low[i]), '#000', 3.5, 'whisker-cap-lower');
    drawLine(g, x - 31, Y(cfg.high[i]), x + 31, Y(cfg.high[i]), '#000', 3.5, 'whisker-cap-upper');
    const box = mk(g, 'rect', {x: x - 63, y: Y(cfg.q3[i]), width: 126, height: Y(cfg.q1[i]) - Y(cfg.q3[i]), fill: boxFills[i], stroke: '#000', 'stroke-width': 3.5});
    
    
    drawLine(g, x - 63, Y(cfg.median[i]), x + 63, Y(cfg.median[i]), '#000', 3.5, 'median-line');
    const my = Y(cfg.mean[i]);
    drawLine(g, x - 12, my - 12, x + 12, my + 12, '#000', 5, 'mean-marker-stroke');
    drawLine(g, x - 12, my + 12, x + 12, my - 12, '#000', 5, 'mean-marker-stroke');
    cfg.outliers[i].forEach(v => {
      const c = mk(g, 'circle', {cx: x, cy: Y(v), r: 6.5, fill: '#000'});
      
      
    });
    drawLine(g, x, cfg.bottom, x, cfg.bottom + 18, '#000', 3.5, 'x-tick');
    cat.forEach((lineText, k) => drawText(g, lineText, x + (k === 4 ? 4 : 0), cfg.labelY + k * 47, 37, 'middle', 'bold', 'x-category-label'));
  });
  const frame = mk(g, 'rect', {x: L, y: cfg.top, width: R - L, height: cfg.bottom - cfg.top, fill: 'none', stroke: '#000', 'stroke-width': 3.5});
  
  
  boxTicks.forEach(v => {
    drawLine(g, L - 16, Y(v), L, Y(v), '#000', 3.5, 'y-tick');
    drawText(g, String(v), 268, Y(v) + 26, 82, 'end', 'normal', 'y-tick-label');
  });
  [95, 85, 75, 65].forEach(v => drawLine(g, L - 7, Y(v), L, Y(v), '#000', 3, 'y-minor-tick'));

  const t = cfg.legendTop;
  const lg = mk(g, 'g', {});
  
  
  const lf = mk(lg, 'rect', {x: 1054, y: t, width: 284, height: 384, fill: '#fff', stroke: '#000', 'stroke-width': 3});
  
  
  const ls = mk(lg, 'rect', {x: 1070, y: t + 8, width: 84, height: 41, fill: '#fff', stroke: '#000', 'stroke-width': 3.5, rx: 2});
  
  
  drawLine(lg, 1113, t + 56, 1113, t + 96, '#000', 3, 'legend-whisker-swatch');
  drawLine(lg, 1100, t + 56, 1127, t + 56, '#000', 3, 'legend-whisker-cap');
  drawLine(lg, 1100, t + 96, 1127, t + 96, '#000', 3, 'legend-whisker-cap');
  drawLine(lg, 1087, t + 217, 1140, t + 217, '#000', 3, 'legend-median-swatch');
  drawLine(lg, 1103, t + 302, 1123, t + 322, '#777', 2.5, 'legend-mean-swatch');
  drawLine(lg, 1103, t + 322, 1123, t + 302, '#777', 2.5, 'legend-mean-swatch');
  const ld = mk(lg, 'circle', {cx: 1112, cy: t + 358, r: 6, fill: '#000'});
  
  
  legendRows.forEach(r => drawText(lg, r[0], r[1], t + r[2], 37.5, 'start', 'normal', 'legend-entry'));
}
drawBoxes({id: 'panel-c', top: 1301, bottom: 2173, q1: criQ1, median: criMedian, q3: criQ3, low: criLow, high: criHigh, mean: criMean, outliers: criOutliers, labelY: 2233, legendTop: 1330});
drawBoxes({id: 'panel-e', top: 2503, bottom: 3375, q1: rfQ1, median: rfMedian, q3: rfQ3, low: rfLow, high: rfHigh, mean: rfMean, outliers: rfOutliers, labelY: 3436, legendTop: 2532});
]]>
</script>
</svg>
</body>
</html>
